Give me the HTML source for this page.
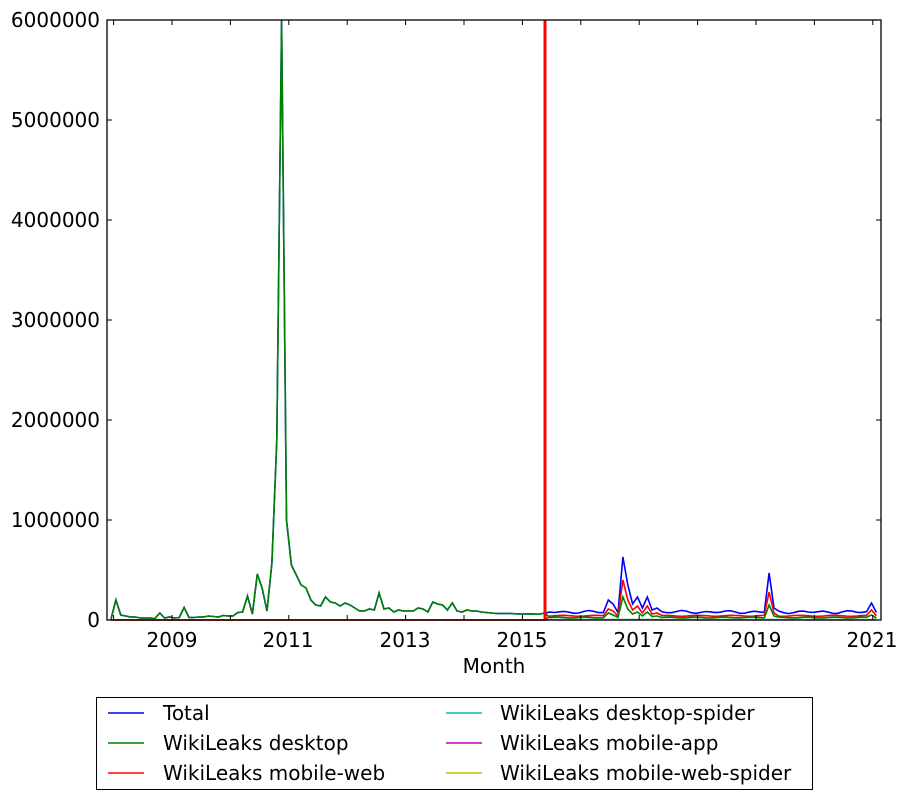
<!DOCTYPE html>
<html><head><meta charset="utf-8"><style>
body{margin:0;background:#fff;}
svg text{font-family:"DejaVu Sans","Liberation Sans",sans-serif;fill:#000;}
</style></head><body>
<svg id="s" width="910" height="800" xmlns="http://www.w3.org/2000/svg">
<rect width="910" height="800" fill="#fff"/>
<defs><clipPath id="c"><rect x="107" y="18" width="774" height="603"/></clipPath></defs>
<g id="series" clip-path="url(#c)"></g>
<line x1="545" y1="20" x2="545" y2="620" stroke="#ff0000" stroke-width="3"/>
<rect x="107" y="20" width="774" height="600" fill="none" stroke="#000" stroke-width="1.3"/>
<g font-size="20" text-anchor="end">
<text x="100" y="27">6000000</text>
<text x="100" y="127">5000000</text>
<text x="100" y="227">4000000</text>
<text x="100" y="327">3000000</text>
<text x="100" y="427">2000000</text>
<text x="100" y="527">1000000</text>
<text x="100" y="627">0</text>
</g>
<g font-size="20" text-anchor="middle">
<text x="172" y="647">2009</text>
<text x="288" y="647">2011</text>
<text x="405" y="647">2013</text>
<text x="522" y="647">2015</text>
<text x="639" y="647">2017</text>
<text x="756" y="647">2019</text>
<text x="872" y="647">2021</text>
<text x="494" y="673">Month</text>
</g>
<g id="ticks" stroke="#000" stroke-width="1"></g>
<rect x="96.5" y="697.5" width="716" height="92" fill="#fff" stroke="#000" stroke-width="1"/>
<g stroke-width="1.5">
<line x1="108" y1="713" x2="144" y2="713" stroke="#0000ff"/>
<line x1="108" y1="743" x2="144" y2="743" stroke="#008000"/>
<line x1="108" y1="773" x2="144" y2="773" stroke="#ff0000"/>
<line x1="446" y1="713" x2="482" y2="713" stroke="#00bfbf"/>
<line x1="446" y1="743" x2="482" y2="743" stroke="#bf00bf"/>
<line x1="446" y1="773" x2="482" y2="773" stroke="#bfbf00"/>
</g>
<g font-size="20">
<text x="163" y="720">Total</text>
<text x="163" y="750">WikiLeaks desktop</text>
<text x="163" y="780">WikiLeaks mobile-web</text>
<text x="500" y="720">WikiLeaks desktop-spider</text>
<text x="500" y="750">WikiLeaks mobile-app</text>
<text x="500" y="780">WikiLeaks mobile-web-spider</text>
</g>
</svg>
<script>
var NS="http://www.w3.org/2000/svg";
function X(m){return 111+4.875*m;}
function Y(v){return 620-v/10;}
var early=[10,200,50,40,30,30,20,20,20,15,70,20,30,20,25,125,25,25,30,30,40,35,30,45,40,40,75,80,240,60,460,320,90,570,1800,6000,1000,550,450,350,320,200,150,140,230,180,170,140,170,150,120,90,90,110,100,270,110,120,80,100,90,90,90,120,110,80,180,160,150,100,170,90,80,100,90,90,80,75,70,65,65,65,65,62,60,60,62,58,60,70];
var N=158,tot=[],desk=[],mw=[],ds=[],ma=[],mws=[];
var sp={102:[200,110,70],103:[160,90,50],105:[630,400,230],106:[350,200,110],107:[160,100,60],108:[230,140,80],109:[120,70,40],110:[230,140,80],111:[100,60,35],112:[120,70,40],135:[470,280,150],136:[120,70,40],156:[170,100,50]};
for(var m=0;m<N;m++){
 if(m<early.length){desk.push(early[m]);tot.push(early[m]);mw.push(0);}
 else{
  var b=80+10*Math.sin(m*1.3)+6*Math.cos(m*0.7), r=42+5*Math.sin(m*0.9), g=25+4*Math.cos(m*1.1);
  if(sp[m]){b=sp[m][0];r=sp[m][1];g=sp[m][2];}
  tot.push(b);mw.push(r);desk.push(g);
 }
 ds.push(m<early.length?0:5);ma.push(m<early.length?0:2);mws.push(m<early.length?0:3);
}
function pl(arr,c,start){var p=[];for(var m=start;m<arr.length;m++)p.push(X(m).toFixed(1)+","+Y(arr[m]).toFixed(1));
 var e=document.createElementNS(NS,"polyline");e.setAttribute("points",p.join(" "));e.setAttribute("fill","none");e.setAttribute("stroke",c);e.setAttribute("stroke-width","1.6");document.getElementById("series").appendChild(e);}
pl(tot,"#0000ff",0);pl(ds,"#00bfbf",0);pl(ma,"#bf00bf",0);pl(mws,"#bfbf00",0);pl(mw,"#ff0000",0);pl(desk,"#008000",0);
var t=document.getElementById("ticks");
function ln(a,b,c,d){var e=document.createElementNS(NS,"line");e.setAttribute("x1",a);e.setAttribute("y1",b);e.setAttribute("x2",c);e.setAttribute("y2",d);t.appendChild(e);}
for(var y=2008;y<=2021;y++){var x=172+(y-2009)*58.4;if(x<107||x>881)continue;ln(x,620,x,615);ln(x,20,x,25);}
for(var i=0;i<7;i++){var yy=20+i*100;ln(107,yy,112,yy);ln(881,yy,876,yy);}
</script>
</body></html>
